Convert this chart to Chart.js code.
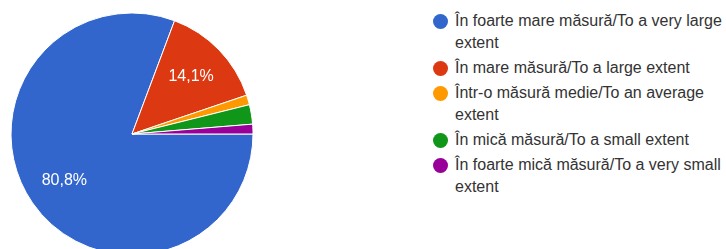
<!DOCTYPE html>
<html>
<head>
<meta charset="utf-8">
<script src="https://cdn.jsdelivr.net/npm/chart.js@4/dist/chart.umd.min.js"></script>
<style>
  html, body { margin: 0; padding: 0; background: #fff; width: 726px; height: 249px; overflow: hidden; }
  #pieWrap { position: absolute; left: 0; top: 0; width: 264px; height: 268px; }
  #legend { position: absolute; left: 428px; top: 10px; width: 320px; font-family: "Liberation Sans", Arial, Helvetica, sans-serif; font-size: 16px; color: #333; }
  .item { position: relative; padding-left: 27px; line-height: 22px; margin-bottom: 3px; width: 285px; }
  .dot { position: absolute; left: 4.5px; top: 3.5px; width: 15px; height: 15px; border-radius: 50%; }
</style>
</head>
<body>
<div id="pieWrap"><canvas id="c" width="264" height="268"></canvas></div>
<div id="legend"></div>
<script>
const categories = [
  "În foarte mare măsură/To a very large extent",
  "În mare măsură/To a large extent",
  "Într-o măsură medie/To an average extent",
  "În mică măsură/To a small extent",
  "În foarte mică măsură/To a very small extent"
];
const percentages = [80.8, 14.1, 1.3, 2.6, 1.3];
const colors = ["#3366cc", "#dc3912", "#ff9900", "#109618", "#990099"];

const sliceLabels = {
  id: 'sliceLabels',
  afterDatasetsDraw(chart) {
    const ctx = chart.ctx;
    const meta = chart.getDatasetMeta(0);
    ctx.save();
    ctx.fillStyle = '#ffffff';
    ctx.font = '16px "Liberation Sans", Arial, sans-serif';
    ctx.textAlign = 'center';
    ctx.textBaseline = 'middle';
    meta.data.forEach((arc, i) => {
      const v = percentages[i];
      if (v < 5) return;
      const p = arc.getProps(['x', 'y', 'startAngle', 'endAngle', 'outerRadius'], true);
      const mid = (p.startAngle + p.endAngle) / 2;
      const r = p.outerRadius * 0.68;
      ctx.fillText(v.toFixed(1).replace('.', ',') + '%', p.x + Math.cos(mid) * r, p.y + Math.sin(mid) * r);
    });
    ctx.restore();
  }
};

new Chart(document.getElementById('c'), {
  type: 'pie',
  data: {
    labels: categories,
    datasets: [{
      data: percentages,
      backgroundColor: colors,
      borderColor: '#ffffff',
      borderWidth: 1
    }]
  },
  options: {
    responsive: false,
    animation: false,
    rotation: 90,
    radius: 121,
    layout: { padding: 0 },
    plugins: { legend: { display: false }, tooltip: { enabled: false } }
  },
  plugins: [sliceLabels]
});

const legend = document.getElementById('legend');
categories.forEach((c, i) => {
  const d = document.createElement('div');
  d.className = 'item';
  const dot = document.createElement('span');
  dot.className = 'dot';
  dot.style.background = colors[i];
  d.appendChild(dot);
  d.appendChild(document.createTextNode(c));
  legend.appendChild(d);
});
</script>
</body>
</html>
